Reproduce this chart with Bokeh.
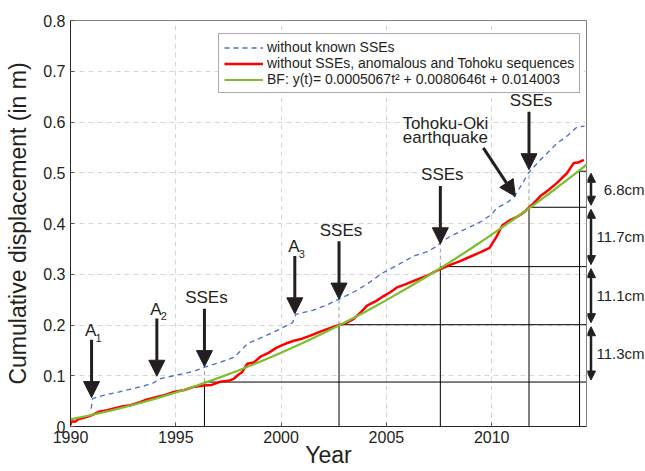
import numpy as np
from bokeh.plotting import figure
from bokeh.models import (Range1d, FixedTicker, Arrow, NormalHead, LinearAxis,
                          ColumnDataSource)
from bokeh.layouts import row
from bokeh.embed import file_html
from bokeh.resources import INLINE
from bokeh.core.properties import value

FONT = "Liberation Sans"
TXT = "#231f20"

# ---------------- data ----------------
blue_years = [1990.98, 1991.05, 1991.6, 1992.2, 1992.7, 1993.5, 1994.0, 1994.15, 1995.0,
              1995.6, 1996.0, 1996.36, 1997.0, 1997.75, 1998.1, 1998.4, 1999.0, 1999.8,
              2000.55, 2000.7, 2001.5, 2002.2, 2002.75, 2003.5, 2004.2, 2004.8, 2005.3,
              2006.3, 2006.9, 2007.4, 2007.56, 2008.0, 2008.5, 2009.0, 2009.5, 2010.0,
              2010.25, 2010.7, 2011.05, 2011.4, 2011.75, 2012.3, 2013.1, 2013.6, 2014.05,
              2014.4]
blue_vals = [0.035, 0.055, 0.062, 0.067, 0.072, 0.080, 0.087, 0.093, 0.101,
             0.106, 0.111, 0.117, 0.125, 0.136, 0.150, 0.163, 0.174, 0.189,
             0.205, 0.221, 0.229, 0.240, 0.251, 0.266, 0.284, 0.302, 0.313,
             0.336, 0.344, 0.355, 0.362, 0.374, 0.384, 0.394, 0.404, 0.418,
             0.431, 0.440, 0.452, 0.475, 0.500, 0.525, 0.558, 0.573, 0.590,
             0.592]

red_years = [1990.0, 1990.05, 1990.25, 1990.35, 1990.63, 1990.87, 1991.1, 1991.34, 1991.74,
             1992.2, 1992.5, 1992.85, 1993.3, 1993.6, 1994.1, 1994.5, 1994.9, 1995.4,
             1995.85, 1996.33, 1996.7, 1997.1, 1997.5, 1997.75, 1998.0, 1998.15, 1998.39,
             1998.7, 1999.0, 1999.4, 1999.81, 2000.2, 2000.6, 2001.0, 2001.39, 2001.8,
             2002.18, 2002.75, 2003.1, 2003.45, 2003.8, 2004.08, 2004.5, 2004.87, 2005.2,
             2005.5, 2005.9, 2006.3, 2006.6, 2006.93, 2007.2, 2007.56, 2008.0, 2008.5,
             2009.0, 2009.5, 2009.9, 2010.2, 2010.5, 2010.8, 2011.2, 2011.5, 2011.67,
             2012.0, 2012.3, 2012.7, 2013.1, 2013.57, 2013.89, 2014.1, 2014.37]
red_vals = [0.003, 0.010, 0.010, 0.014, 0.017, 0.020, 0.024, 0.029, 0.032,
            0.037, 0.040, 0.042, 0.048, 0.053, 0.058, 0.062, 0.068, 0.072,
            0.078, 0.081, 0.082, 0.088, 0.090, 0.094, 0.103, 0.107, 0.1235,
            0.126, 0.137, 0.145, 0.156, 0.163, 0.169, 0.173, 0.179, 0.186,
            0.192, 0.200, 0.204, 0.212, 0.226, 0.238, 0.247, 0.257, 0.265,
            0.274, 0.280, 0.287, 0.292, 0.297, 0.303, 0.310, 0.318, 0.326,
            0.335, 0.344, 0.352, 0.372, 0.396, 0.405, 0.413, 0.421, 0.4275,
            0.440, 0.4535, 0.466, 0.480, 0.499, 0.519, 0.520, 0.5255]

green_years = [1990, 1991, 1992, 1993, 1994, 1995, 1996, 1997, 1998, 1999, 2000, 2001,
               2002, 2003, 2004, 2005, 2006, 2007, 2008, 2009, 2010, 2011, 2012, 2013,
               2014, 2014.5]
green_vals = [0.0140, 0.0226, 0.0322, 0.0428, 0.0544, 0.0670, 0.0806, 0.0953, 0.1109,
              0.1276, 0.1454, 0.1640, 0.1838, 0.2045, 0.2262, 0.2490, 0.2728, 0.2975,
              0.3234, 0.3502, 0.3780, 0.4069, 0.4367, 0.4675, 0.4994, 0.5158]

step_years = [1996.36, 2002.75, 2007.56, 2011.77, 2014.17]
step_levels = [0.0876, 0.2006, 0.315, 0.432, 0.503]
interval_labels = ["11.3cm", "11.1cm", "11.7cm", "6.8cm"]

event_years = [1991.0, 1994.1, 1996.36, 2000.65, 2002.75, 2007.56, 2011.77]
event_tips = [0.057, 0.099, 0.118, 0.222, 0.251, 0.360, 0.506]
event_names = ["A", "A", "SSEs", "A", "SSEs", "SSEs", "SSEs"]
event_subs = ["1", "2", "", "3", "", "", ""]

tohoku_lines = ["Tohoku-Oki", "earthquake"]
tohoku_year = 2011.12
tohoku_tip = 0.4535

x_ticks = [1990, 1995, 2000, 2005, 2010]
y_ticks = [0, 0.1, 0.2, 0.3, 0.4, 0.5, 0.6, 0.7, 0.8]
y_tick_labels = ["0", "0.1", "0.2", "0.3", "0.4", "0.5", "0.6", "0.7", "0.8"]

legend_labels = ["without known SSEs",
                 "without SSEs, anomalous and Tohoku sequences",
                 "BF: y(t)= 0.0005067t\u00b2 + 0.0080646t + 0.014003"]

X_START, X_END = 1990, 2014.5
H = 471
TOP, BOTTOM = 20, 45

# ---------------- main figure ----------------
p = figure(width=587, height=H, x_range=Range1d(X_START, X_END), y_range=Range1d(0, 0.8),
           output_backend="svg", toolbar_location=None, title=None,
           min_border_left=70, min_border_right=1, min_border_top=TOP,
           min_border_bottom=BOTTOM)
p.background_fill_color = "white"
p.border_fill_color = "white"
p.outline_line_color = "#808080"
p.outline_line_width = 1

for g, ticks in ((p.xgrid[0], x_ticks), (p.ygrid[0], y_ticks)):
    g.ticker = FixedTicker(ticks=ticks)
    g.grid_line_color = "#d6d6d6"
    g.grid_line_dash = "5 4"
    g.grid_line_width = 1

xa = p.xaxis[0]
xa.ticker = FixedTicker(ticks=x_ticks)
xa.axis_label = "Year"
xa.axis_label_text_font_size = "23px"
xa.axis_label_standoff = -4
xa.major_label_standoff = 4

ya = p.yaxis[0]
ya.ticker = FixedTicker(ticks=y_ticks)
ya.major_label_overrides = {t: l for t, l in zip(y_ticks, y_tick_labels)}
ya.axis_label = "Cumulative displacement (in m)"
ya.axis_label_text_font_size = "23px"
ya.axis_label_standoff = 9
ya.major_label_standoff = 5

for ax in (xa, ya):
    ax.axis_label_text_font = FONT
    ax.axis_label_text_font_style = "normal"
    ax.axis_label_text_color = TXT
    ax.major_label_text_font = FONT
    ax.major_label_text_font_size = "16px"
    ax.major_label_text_color = TXT
    ax.major_tick_in = 4
    ax.major_tick_out = 0
    ax.minor_tick_in = 0
    ax.minor_tick_out = 0
    ax.major_tick_line_color = "#555555"
    ax.axis_line_color = "#262626"

# step construction lines
n = len(step_years)
p.segment(x0=step_years, y0=[0] * n, x1=step_years, y1=step_levels,
          line_color="black", line_width=1)
p.segment(x0=step_years, y0=step_levels, x1=[X_END] * n, y1=step_levels,
          line_color="black", line_width=1)
blue_at = np.interp(step_years[:-1], blue_years, blue_vals)
p.segment(x0=step_years[:-1], y0=step_levels[:-1], x1=step_years[:-1], y1=blue_at,
          line_color="#9a9a9a", line_width=1, line_dash="4 3")

# curves
p.line(blue_years, blue_vals, line_color="#4a6cc6", line_width=1.3, line_dash="5 4",
       legend_label=legend_labels[0])
p.line(red_years, red_vals, line_color="#ff0000", line_width=2.5,
       legend_label=legend_labels[1])
p.line(green_years, green_vals, line_color="#7dbd2e", line_width=2.2,
       legend_label=legend_labels[2])

frame_h = H - TOP - BOTTOM
leg = p.legend[0]
leg.location = (148, frame_h - 15 - 58)
leg.label_text_font = FONT
leg.label_text_font_size = "14px"
leg.label_text_color = TXT
leg.glyph_width = 39
leg.glyph_height = 15
leg.label_height = 15
leg.label_standoff = 4
leg.padding = 5
leg.spacing = 0
leg.margin = 0
leg.border_line_color = "#555555"
leg.border_line_width = 1
leg.background_fill_alpha = 1

# event arrows
ev_x = np.array(event_years)
ev_tip = np.array(event_tips)
ev_top = ev_tip + 0.114
src = ColumnDataSource(dict(x=ev_x, tip=ev_tip, top=ev_top))
p.add_layout(Arrow(end=NormalHead(size=16, fill_color=TXT, line_color=TXT),
                   x_start="x", y_start="top", x_end="x", y_end="tip", source=src,
                   line_width=3, line_color=TXT))

sse_idx = [i for i, nme in enumerate(event_names) if nme == "SSEs"]
a_idx = [i for i, nme in enumerate(event_names) if nme == "A"]
p.text(x=ev_x[sse_idx], y=ev_top[sse_idx], text=[event_names[i] for i in sse_idx],
       x_offset=2, y_offset=-11, text_align="center", text_baseline="middle",
       text_font=value(FONT), text_font_size=value("17px"), text_color=TXT)
p.text(x=ev_x[a_idx], y=ev_top[a_idx], text=[event_names[i] for i in a_idx],
       x_offset=-1, y_offset=-9, text_align="center", text_baseline="middle",
       text_font=value(FONT), text_font_size=value("17px"), text_color=TXT)
p.text(x=ev_x[a_idx], y=ev_top[a_idx], text=[event_subs[i] for i in a_idx],
       x_offset=7, y_offset=-2, text_align="center", text_baseline="middle",
       text_font=value(FONT), text_font_size=value("11px"), text_color=TXT)

# Tohoku-Oki arrow and label
t_start_x = tohoku_year - 1.52
t_start_y = tohoku_tip + 0.0955
p.add_layout(Arrow(end=NormalHead(size=16, fill_color=TXT, line_color=TXT),
                   x_start=t_start_x, y_start=t_start_y, x_end=tohoku_year, y_end=tohoku_tip,
                   line_width=3, line_color=TXT))
p.text(x=[tohoku_year - 3.32] * 2, y=[tohoku_tip + 0.144, tohoku_tip + 0.115],
       text=tohoku_lines, text_align="center", text_baseline="middle",
       text_font=value(FONT), text_font_size=value("17px"), text_color=TXT)

# ---------------- right annotation strip ----------------
p2 = figure(width=58, height=H, x_range=Range1d(0, 58), y_range=p.y_range,
            output_backend="svg", toolbar_location=None, title=None,
            x_axis_type=None, y_axis_type=None,
            min_border_left=0, min_border_right=0, min_border_top=TOP,
            min_border_bottom=BOTTOM)
p2.outline_line_color = None
p2.background_fill_color = "white"
p2.border_fill_color = "white"
ax2 = LinearAxis(ticker=FixedTicker(ticks=[10]), axis_label="Year")
ax2.axis_label_text_font = FONT
ax2.axis_label_text_font_style = "normal"
ax2.axis_label_text_font_size = "23px"
ax2.axis_label_standoff = -4
ax2.major_label_standoff = 4
ax2.major_label_text_font = FONT
ax2.major_label_text_font_size = "16px"
ax2.major_label_text_alpha = 0
ax2.axis_label_text_alpha = 0
ax2.axis_line_color = None
ax2.major_tick_line_color = None
ax2.minor_tick_line_color = None
ax2.major_tick_in = 4
ax2.major_tick_out = 0
p2.add_layout(ax2, "below")

lv = np.array(step_levels)
src2 = ColumnDataSource(dict(x=[3.5] * (len(lv) - 1), y0=lv[:-1] + 0.004, y1=lv[1:] - 0.004))
p2.add_layout(Arrow(start=NormalHead(size=9, fill_color=TXT, line_color=TXT),
                    end=NormalHead(size=9, fill_color=TXT, line_color=TXT),
                    x_start="x", y_start="y0", x_end="x", y_end="y1", source=src2,
                    line_width=2.5, line_color=TXT))
p2.text(x=[57] * (len(lv) - 1), y=(lv[:-1] + lv[1:]) / 2, text=interval_labels,
        text_align="right", text_baseline="middle",
        text_font=value(FONT), text_font_size=value("15px"), text_color=TXT)

layout = row(p, p2)
open("out.html", "w").write(file_html(layout, INLINE))
